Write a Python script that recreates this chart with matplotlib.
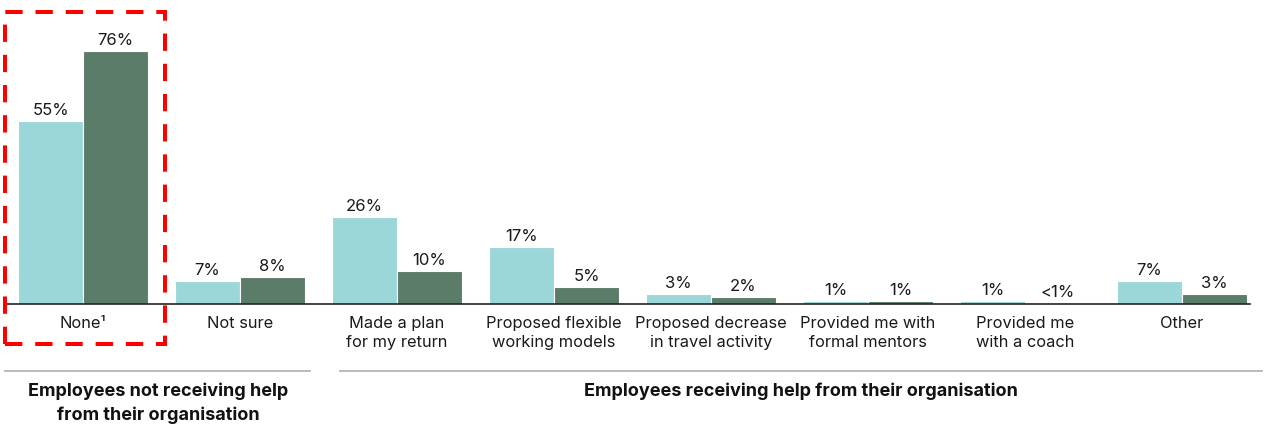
import matplotlib
matplotlib.use("Agg")
import matplotlib.pyplot as plt
from matplotlib.patches import Rectangle
from matplotlib.lines import Line2D
import numpy as np

categories = ["None¹", "Not sure", "Made a plan\nfor my return", "Proposed flexible\nworking models",
              "Proposed decrease\nin travel activity", "Provided me with\nformal mentors",
              "Provided me\nwith a coach", "Other"]
series_a = [55, 7, 26, 17, 3, 1, 1, 7]
series_b = [76, 8, 10, 5, 2, 1, 0.2, 3]
labels_a = ["55%", "7%", "26%", "17%", "3%", "1%", "1%", "7%"]
labels_b = ["76%", "8%", "10%", "5%", "2%", "1%", "<1%", "3%"]
group_labels = ["Employees not receiving help\nfrom their organisation",
                "Employees receiving help from their organisation"]

plt.rcParams['font.family'] = ['Inter', 'DejaVu Sans']
W, H = 1267, 427
fig = plt.figure(figsize=(W / 100, H / 100), dpi=100)

base_px = 305
px_per_pct = 3.33
ymax = 90
top_px = base_px - ymax * px_per_pct
ax = fig.add_axes([0, (H - base_px) / H, 1, (base_px - top_px) / H])
ax.set_xlim((0 - 83) / 157, (W - 83) / 157)
ax.set_ylim(0, ymax)
ax.axis("off")

x = np.arange(len(categories))
bw = 65 / 157
light = "#9bd6d9"
dark = "#5a7c68"
ax.bar(x - bw / 2, series_a, width=bw, color=light, edgecolor="white", linewidth=0.8)
ax.bar(x + bw / 2, series_b, width=bw, color=dark, edgecolor="white", linewidth=0.8)

txt = "#1a1a1a"
for i in range(len(categories)):
    ax.annotate(labels_a[i], (x[i] - bw / 2, series_a[i]), xytext=(0, 3), textcoords="offset points",
                ha="center", va="bottom", fontsize=12, color=txt)
    ax.annotate(labels_b[i], (x[i] + bw / 2, series_b[i]), xytext=(0, 3), textcoords="offset points",
                ha="center", va="bottom", fontsize=12, color=txt)
    ax.annotate(categories[i], (x[i], 0), xytext=(0, -8), textcoords="offset points",
                ha="center", va="top", fontsize=11.8, color=txt, linespacing=1.35)

# baseline
ax.plot([(5 - 83) / 157, (1250 - 83) / 157], [0, 0], color="#222222", lw=1.2, clip_on=False)

def fx(px):
    return px / W

def fy(py):
    return (H - py) / H

# red dashed highlight box
fig.patches.append(Rectangle((fx(5), fy(345)), fx(165) - fx(5), fy(13) - fy(345),
                             transform=fig.transFigure, fill=False, edgecolor="#ff0000",
                             linewidth=2.9, linestyle=(0, (4.3, 3.2))))

# group separator lines
fig.lines.append(Line2D([fx(5), fx(310)], [fy(372), fy(372)], transform=fig.transFigure,
                        color="#b5b5b5", lw=1.3))
fig.lines.append(Line2D([fx(340), fx(1262)], [fy(372), fy(372)], transform=fig.transFigure,
                        color="#b5b5b5", lw=1.3))

fig.text(fx(158), fy(383), group_labels[0], ha="center", va="top", fontsize=13,
         fontweight="bold", color="#111111", linespacing=1.45)
fig.text(fx(801), fy(383), group_labels[1], ha="center", va="top", fontsize=13,
         fontweight="bold", color="#111111")

fig.savefig("out.png", dpi=100)
